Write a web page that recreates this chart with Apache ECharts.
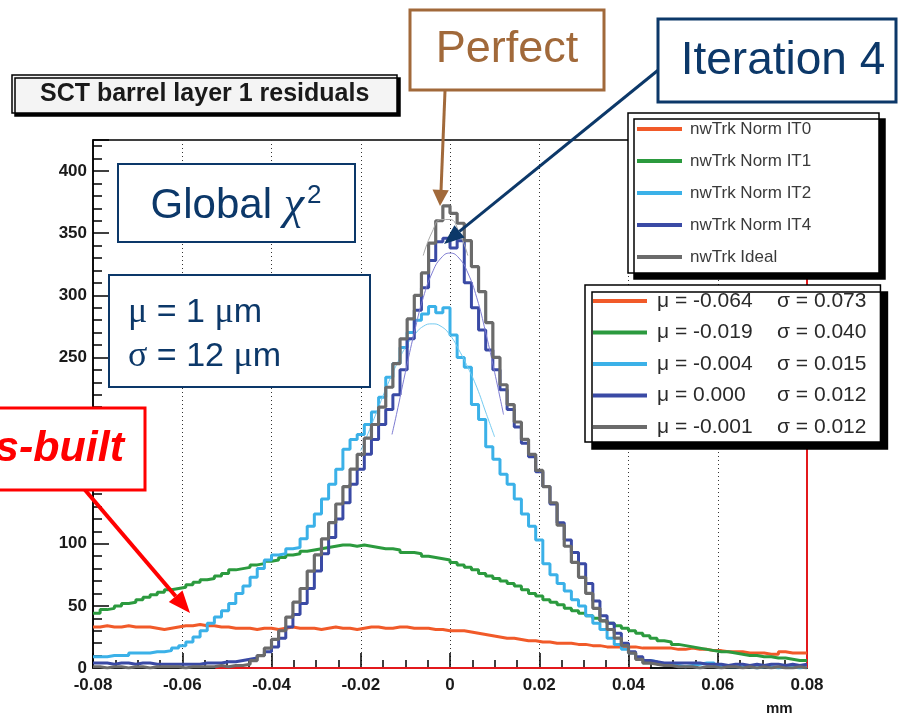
<!DOCTYPE html>
<html>
<head>
<meta charset="utf-8">
<script src="https://cdn.jsdelivr.net/npm/echarts@6/dist/echarts.min.js"></script>
<style>
  html, body { margin: 0; padding: 0; background: #ffffff; }
  #chart { width: 904px; height: 720px; }
</style>
</head>
<body>
<div id="chart"></div>
<script>
// Histogram binning of the residual distributions (mm)
const BIN_MIN = -0.08;
const BIN_MAX = 0.08;
const N_BINS = 100;

const seriesNames = ['nwTrk Norm IT0', 'nwTrk Norm IT1', 'nwTrk Norm IT2', 'nwTrk Norm IT4', 'nwTrk Ideal'];
const fitMu = ['-0.064', '-0.019', '-0.004', '0.000', '-0.001'];
const fitSigma = ['0.073', '0.040', '0.015', '0.012', '0.012'];

// Entries per bin, one array per alignment iteration
const countsIT0 = [
  33, 34, 33, 33, 34, 33, 33, 33, 32, 31,
  32, 33, 34, 34, 35, 34, 34, 33, 33, 32,
  32, 32, 31, 32, 32, 31, 32, 33, 32, 32,
  32, 31, 32, 33, 32, 32, 31, 32, 33, 33,
  32, 32, 33, 33, 32, 32, 32, 31, 31, 30,
  30, 30, 29, 28, 27, 26, 25, 24, 24, 23,
  22, 22, 21, 21, 20, 20, 20, 19, 19, 18,
  18, 17, 17, 17, 17, 17, 16, 16, 16, 16,
  16, 15, 15, 16, 15, 15, 14, 14, 13, 13,
  13, 12, 12, 12, 11, 11, 13, 12, 12, 12
];
const countsIT1 = [
  44, 47, 48, 50, 52, 53, 55, 57, 59, 61,
  63, 64, 65, 67, 69, 71, 72, 74, 76, 79,
  80, 81, 83, 84, 86, 87, 89, 91, 92, 94,
  95, 96, 97, 98, 99, 99, 98, 99, 98, 97,
  96, 96, 95, 93, 93, 92, 90, 89, 88, 87,
  85, 83, 81, 79, 76, 74, 72, 70, 68, 66,
  63, 60, 58, 55, 53, 51, 48, 46, 44, 42,
  40, 38, 36, 34, 32, 30, 28, 26, 24, 22,
  21, 19, 18, 17, 16, 15, 14, 13, 13, 12,
  11, 10, 10, 9, 9, 8, 8, 7, 6, 6
];
const countsIT2 = [
  9, 9, 10, 10, 10, 12, 12, 12, 13, 13,
  14, 16, 18, 21, 25, 30, 36, 41, 46, 52,
  60, 66, 73, 80, 87, 91, 92, 96, 97, 104,
  114, 124, 136, 148, 160, 176, 184, 188, 196, 206,
  218, 234, 245, 258, 270, 280, 285, 291, 286, 290,
  268, 250, 242, 212, 200, 178, 168, 156, 148, 136,
  124, 114, 103, 84, 75, 68, 62, 55, 50, 42,
  36, 31, 24, 19, 15, 12, 8, 6, 5, 3,
  2, 2, 1, 2, 3, 4, 4, 2, 1, 1,
  1, 1, 0, 1, 1, 0, 1, 1, 0, 1
];
const countsIT4 = [
  4, 4, 3, 4, 4, 3, 4, 4, 3, 3,
  3, 3, 3, 3, 3, 4, 4, 4, 5, 5,
  6, 7, 8, 10, 13, 17, 24, 33, 43, 52,
  64, 78, 92, 105, 120, 133, 148, 160, 172, 184,
  196, 208, 220, 240, 265, 288, 306, 328, 343, 346,
  338, 344, 310, 290, 272, 256, 240, 224, 208, 194,
  181, 170, 158, 146, 132, 117, 103, 93, 84, 68,
  54, 42, 36, 28, 20, 13, 9, 6, 5, 4,
  4, 4, 4, 4, 4, 3, 3, 3, 2, 3,
  3, 2, 3, 2, 3, 3, 2, 3, 2, 3
];
const countsIdeal = [
  1, 0, 1, 1, 0, 1, 1, 0, 1, 1,
  1, 1, 0, 1, 1, 1, 1, 2, 1, 2,
  2, 3, 6, 10, 16, 23, 30, 41, 53, 64,
  78, 91, 104, 117, 132, 146, 160, 172, 185, 196,
  210, 226, 245, 265, 281, 300, 318, 342, 360, 372,
  366, 358, 344, 323, 303, 278, 250, 228, 212, 198,
  184, 172, 159, 146, 133, 115, 98, 85, 73, 60,
  48, 38, 31, 24, 18, 12, 7, 4, 3, 2,
  2, 1, 1, 1, 0, 1, 1, 0, 1, 1,
  0, 1, 0, 1, 0, 1, 0, 0, 1, 0
];

// Gaussian fit curves over their fit ranges
const fitIT2X = [-0.020, -0.018, -0.016, -0.014, -0.012, -0.010, -0.008, -0.006, -0.004, -0.002, 0.000, 0.002, 0.004, 0.006, 0.008, 0.010];
const fitIT2Y = [175, 192, 210, 228, 244, 258, 268, 275, 277, 275, 268, 256, 242, 226, 206, 186];
const fitIT4X = [-0.013, -0.012, -0.010, -0.008, -0.006, -0.004, -0.002, 0.000, 0.002, 0.004, 0.006, 0.008, 0.010, 0.012];
const fitIT4Y = [188, 204, 238, 270, 298, 318, 330, 334, 330, 318, 298, 270, 238, 204];
const fitIdealX = [-0.006, -0.004, -0.002, 0.000, 0.002, 0.004];
const fitIdealY = [332, 351, 361, 361, 351, 332];

// Range of the empty reference histogram drawn along the baseline
const emptyHistRange = [-0.0526, 0.0448];

const colors = ['#f15a29', '#2b9a3e', '#3bb1e8', '#3a4aa5', '#6b6b6b'];
const allCounts = [countsIT0, countsIT1, countsIT2, countsIT4, countsIdeal];

const binWidth = (BIN_MAX - BIN_MIN) / N_BINS;
function histPoints(counts) {
  const pts = counts.map((c, i) => [BIN_MIN + i * binWidth, c]);
  pts.push([BIN_MAX, counts[counts.length - 1]]);
  return pts;
}
function zip(xs, ys) { return xs.map((x, i) => [x, ys[i]]); }

const histSeries = seriesNames.map((name, k) => ({
  name: name,
  type: 'line',
  step: 'end',
  symbol: 'none',
  color: colors[k],
  lineStyle: { color: colors[k], width: k === 4 ? 3.2 : 3 },
  data: histPoints(allCounts[k]),
  z: 2 + k
}));

histSeries[0].markLine = {
  silent: true,
  z: 2,
  symbol: 'none',
  label: { show: false },
  lineStyle: { color: '#e3191c', width: 2, type: 'solid' },
  data: [
    { xAxis: BIN_MAX },
    [{ coord: [emptyHistRange[0], 0] }, { coord: [emptyHistRange[1], 0] }]
  ]
};

function fitSeries(xs, ys, color, z) {
  return {
    type: 'line', smooth: true, symbol: 'none', silent: true,
    lineStyle: { color: color, width: 1 },
    data: zip(xs, ys), z: z
  };
}

const series = [
  histSeries[0], histSeries[1], histSeries[2],
  fitSeries(fitIT2X, fitIT2Y, '#74cbf1', 5),
  histSeries[3],
  fitSeries(fitIT4X, fitIT4Y, '#7d7bd2', 6),
  histSeries[4],
  fitSeries(fitIdealX, fitIdealY, '#a8a8a8', 7)
];

const navy = '#0c3869';
const brown = '#a1693a';
const red = '#ff0000';
const sans = '"Liberation Sans", Arial, sans-serif';
const serif = '"Liberation Serif", "DejaVu Serif", serif';

const chart = echarts.init(document.getElementById('chart'), null, { renderer: 'canvas' });
chart.setOption({
  animation: false,
  backgroundColor: '#ffffff',
  title: {
    text: 'SCT barrel layer 1 residuals',
    left: 12, top: 75,
    padding: [6, 28, 5, 28],
    backgroundColor: '#f4f4f4',
    borderColor: '#000', borderWidth: 1.5,
    shadowColor: '#000', shadowOffsetX: 3, shadowOffsetY: 3, shadowBlur: 0,
    textStyle: { fontFamily: sans, fontWeight: 'bold', fontSize: 25, color: '#1a1a1a', lineHeight: 27 }
  },
  grid: { left: 93, top: 140, width: 714, height: 528, show: true, borderColor: '#000', borderWidth: 1.5, backgroundColor: 'transparent' },
  xAxis: {
    type: 'value', min: BIN_MIN, max: BIN_MAX, interval: 0.02,
    name: 'mm', nameLocation: 'end', nameGap: -41,
    nameTextStyle: { fontFamily: sans, fontWeight: 'bold', fontSize: 15, color: '#1a1a1a', align: 'left', verticalAlign: 'top', padding: [33, 0, 0, 0] },
    axisLine: { show: true, onZero: false, lineStyle: { color: '#000', width: 1.5 } },
    axisTick: { show: true, inside: true, length: 15, lineStyle: { color: '#000', width: 1.5 } },
    minorTick: { show: true, splitNumber: 4, length: 8, lineStyle: { color: '#000', width: 1.5 } },
    splitLine: { show: true, lineStyle: { color: '#333', width: 1, type: [1, 3] } },
    axisLabel: {
      margin: 9, fontFamily: sans, fontWeight: 'bold', fontSize: 17, color: '#1a1a1a',
      formatter: v => Math.abs(v) < 1e-9 ? '0' : v.toFixed(2)
    }
  },
  yAxis: {
    type: 'value', min: 0, max: 425, interval: 50,
    axisLine: { show: true, onZero: false, lineStyle: { color: '#000', width: 1.5 } },
    axisTick: { show: true, inside: true, length: 16, lineStyle: { color: '#000', width: 1.5 } },
    minorTick: { show: true, splitNumber: 5, length: 9, lineStyle: { color: '#000', width: 1.5 } },
    splitLine: { show: false },
    axisLabel: {
      margin: 6, fontFamily: sans, fontWeight: 'bold', fontSize: 17, color: '#1a1a1a',
      formatter: v => (v % 50 === 0 ? String(v) : '')
    }
  },
  legend: [
    {
      z: 20,
      orient: 'vertical', left: 628, top: 113,
      data: seriesNames.map(n => ({ name: n, icon: 'rect' })),
      itemWidth: 45, itemHeight: 4, itemGap: 12,
      padding: [6, 6, 6, 9],
      backgroundColor: '#ffffff', borderColor: '#000', borderWidth: 1.5,
      shadowColor: '#000', shadowOffsetX: 6, shadowOffsetY: 6, shadowBlur: 0,
      selectedMode: false,
      textStyle: { fontFamily: sans, fontSize: 17, color: '#3a3a3a', width: 183, lineHeight: 20, padding: [0, 0, 0, 3] }
    },
    {
      z: 20,
      orient: 'vertical', left: 585, top: 285,
      data: seriesNames.map(n => ({ name: n, icon: 'rect' })),
      itemWidth: 54, itemHeight: 4, itemGap: 9.5,
      padding: [5, 14, 4, 8],
      backgroundColor: '#ffffff', borderColor: '#000', borderWidth: 1.5,
      shadowColor: '#000', shadowOffsetX: 7, shadowOffsetY: 7, shadowBlur: 0,
      selectedMode: false,
      formatter: name => {
        const i = seriesNames.indexOf(name);
        return '{m|\u03bc = ' + fitMu[i] + '}{s|\u03c3 = ' + fitSigma[i] + '}';
      },
      textStyle: {
        fontFamily: sans, fontSize: 21, color: '#2a2a2a', lineHeight: 22, padding: [0, 0, 0, 5],
        rich: {
          m: { width: 120, fontFamily: sans, fontSize: 21, color: '#2a2a2a' },
          s: { fontFamily: sans, fontSize: 21, color: '#2a2a2a' }
        }
      }
    }
  ],
  graphic: [
    // "Perfect" callout
    { type: 'line', z: 100, shape: { x1: 445, y1: 91, x2: 441, y2: 191 }, style: { stroke: brown, lineWidth: 3 } },
    { type: 'polygon', z: 100, shape: { points: [[432.5, 189.5], [448.8, 190.3], [440, 206]] }, style: { fill: brown } },
    { type: 'rect', z: 100, shape: { x: 410, y: 10, width: 194, height: 80 }, style: { fill: '#fff', stroke: brown, lineWidth: 3 } },
    { type: 'text', z: 101, style: { text: 'Perfect', x: 507, y: 50, fill: brown, font: '45px ' + sans, align: 'center', verticalAlign: 'middle' } },

    // "Iteration 4" callout
    { type: 'line', z: 100, shape: { x1: 662, y1: 67, x2: 459.5, y2: 231.4 }, style: { stroke: navy, lineWidth: 3 } },
    { type: 'polygon', z: 100, shape: { points: [[464.6, 237.6], [454.4, 225.2], [444, 244]] }, style: { fill: navy } },
    { type: 'rect', z: 100, shape: { x: 658, y: 19, width: 238, height: 83 }, style: { fill: '#fff', stroke: navy, lineWidth: 3 } },
    { type: 'text', z: 101, style: { text: 'Iteration 4', x: 783, y: 61, fill: navy, font: '46px ' + sans, align: 'center', verticalAlign: 'middle' } },

    // "Global chi^2" box
    { type: 'rect', z: 100, shape: { x: 118, y: 164, width: 237, height: 78 }, style: { fill: '#fff', stroke: navy, lineWidth: 2 } },
    { type: 'text', z: 101, style: {
        text: '{t|Global }{g|\u03c7}{p|2}', x: 236, y: 206, align: 'center', verticalAlign: 'middle', fill: navy,
        rich: {
          t: { font: '42px ' + sans, fill: navy },
          g: { font: 'italic 46px ' + serif, fill: navy },
          p: { font: '26px ' + sans, fill: navy, verticalAlign: 'top', padding: [0, 0, 16, 3] }
        }
      } },

    // Fit result box
    { type: 'rect', z: 100, shape: { x: 109, y: 275, width: 261, height: 112 }, style: { fill: '#fff', stroke: navy, lineWidth: 2 } },
    { type: 'text', z: 101, style: {
        text: '{g|\u03bc}{t| = 1 }{g|\u03bc}{t|m}', x: 128, y: 313, align: 'left', verticalAlign: 'middle',
        rich: { t: { font: '34px ' + sans, fill: navy }, g: { font: '36px ' + serif, fill: navy } }
      } },
    { type: 'text', z: 101, style: {
        text: '{g|\u03c3}{t| = 12 }{g|\u03bc}{t|m}', x: 128, y: 357, align: 'left', verticalAlign: 'middle',
        rich: { t: { font: '34px ' + sans, fill: navy }, g: { font: '36px ' + serif, fill: navy } }
      } },

    // "As-built" callout
    { type: 'line', z: 100, shape: { x1: 85, y1: 490, x2: 175.7, y2: 596.3 }, style: { stroke: red, lineWidth: 4 } },
    { type: 'polygon', z: 100, shape: { points: [[182.5, 590.5], [168.8, 602.1], [190, 613]] }, style: { fill: red } },
    { type: 'rect', z: 100, shape: { x: -10, y: 408, width: 155, height: 82 }, style: { fill: '#fff', stroke: red, lineWidth: 3 } },
    { type: 'text', z: 101, style: { text: 'As-built', x: 124, y: 449, fill: red, font: 'italic bold 43px ' + sans, align: 'right', verticalAlign: 'middle' } }
  ],
  series: series
});
</script>
</body>
</html>
